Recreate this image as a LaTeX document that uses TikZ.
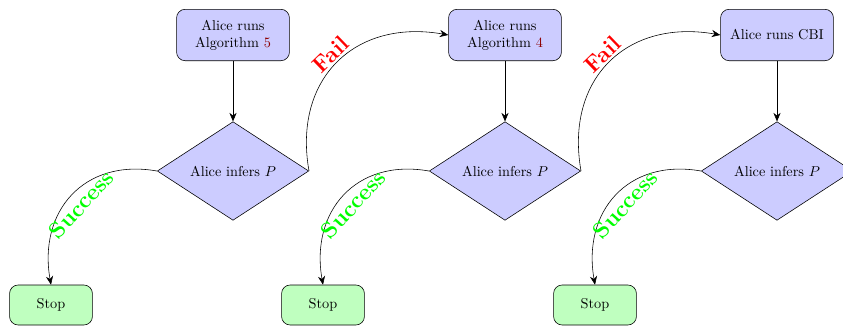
\documentclass[tikz,border=0pt]{standalone}
\usetikzlibrary{shapes.geometric,arrows.meta}
\definecolor{refred}{rgb}{0.55,0,0}
\tikzset{
  procbox/.style={draw, rounded corners=6pt, fill=blue!20, align=center, minimum width=79pt, minimum height=36pt, inner sep=2pt},
  decbox/.style={draw, diamond, fill=blue!20, minimum width=106pt, minimum height=69pt, inner sep=0pt},
  stopbox/.style={draw, rounded corners=6pt, fill=green!25, minimum width=58pt, minimum height=28pt},
  flow/.style={draw, -{Stealth[length=6pt,width=5pt]}, thin},
  faillbl/.style={text=red, font=\fontsize{16}{19}\selectfont\bfseries, sloped, above, inner sep=1.5pt},
  succlbl/.style={text=green, font=\fontsize{16}{19}\selectfont\bfseries, sloped, below, inner sep=3pt},
}
\begin{document}
\begin{tikzpicture}[x=0.7pt, y=-0.7pt]
\useasboundingbox (0,0) rectangle (843,325);
\clip (0,0) rectangle (843,325);
% column 1
\node[procbox] (a1) at (233,35) {Alice runs\\Algorithm \textcolor{refred}{5}};
\node[decbox] (d1) at (233,171) {Alice infers $P$};
\node[stopbox] (s1) at (51,305) {Stop};
% column 2
\node[procbox] (a2) at (505,35) {Alice runs\\Algorithm \textcolor{refred}{4}};
\node[decbox] (d2) at (505,171) {Alice infers $P$};
\node[stopbox] (s2) at (323,305) {Stop};
% column 3
\node[procbox] (a3) at (777,35) {Alice runs CBI};
\node[decbox] (d3) at (777,171) {Alice infers $P$};
\node[stopbox] (s3) at (595,305) {Stop};
% straight arrows
\path[flow] (a1) -- (d1);
\path[flow] (a2) -- (d2);
\path[flow] (a3) -- (d3);
% success arrows
\path[flow] (d1.west) .. controls +(170:52pt) and +(100:52pt) .. node[succlbl, pos=0.5] {Success} (s1.north);
\path[flow] (d2.west) .. controls +(170:52pt) and +(100:52pt) .. node[succlbl, pos=0.5] {Success} (s2.north);
\path[flow] (d3.west) .. controls +(170:52pt) and +(100:52pt) .. node[succlbl, pos=0.5] {Success} (s3.north);
% fail arrows
\path[flow] (d1.east) .. controls +(100:66pt) and +(170:66pt) .. node[faillbl, pos=0.5] {Fail} (a2.west);
\path[flow] (d2.east) .. controls +(100:66pt) and +(170:66pt) .. node[faillbl, pos=0.5] {Fail} (a3.west);
\end{tikzpicture}
\end{document}
